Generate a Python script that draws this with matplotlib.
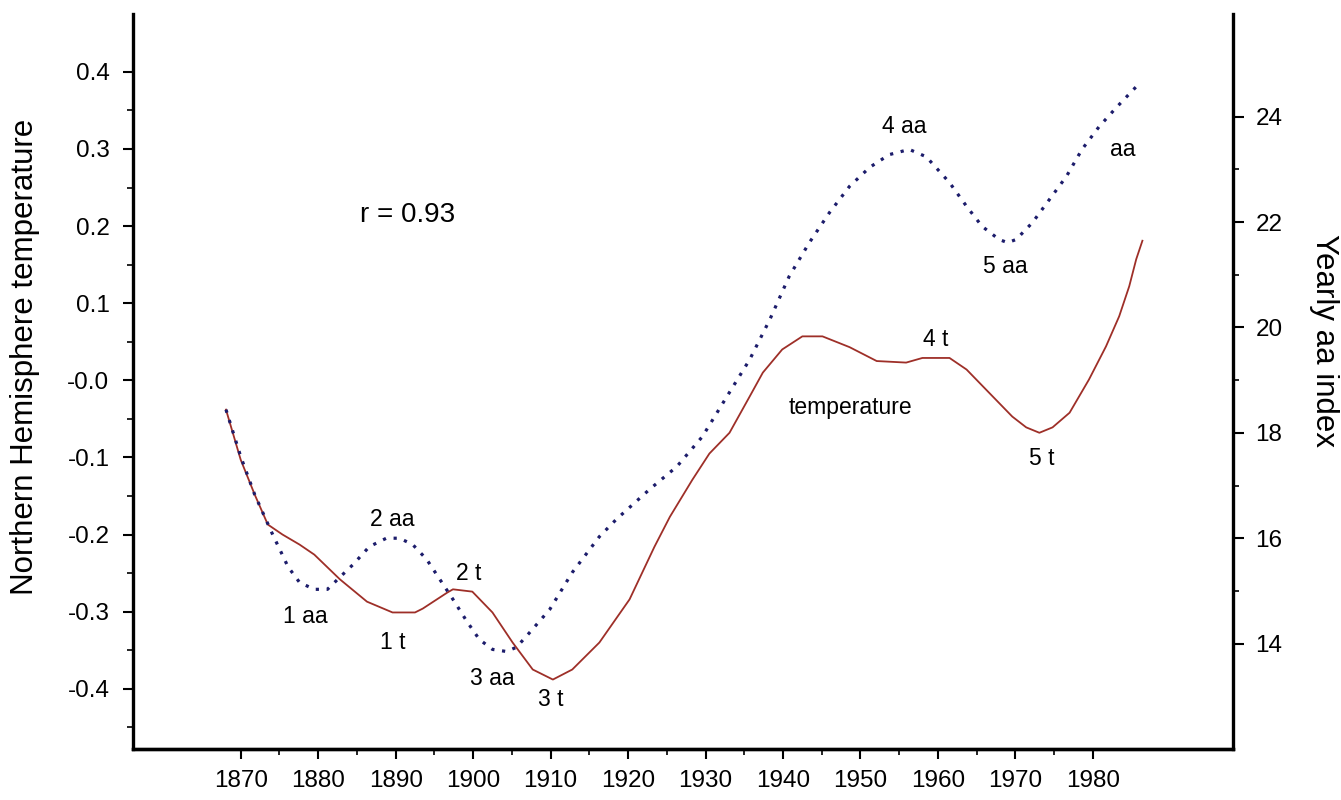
import matplotlib
matplotlib.use("Agg")
import matplotlib.pyplot as plt
from matplotlib.ticker import FixedLocator

plt.rcParams['font.family'] = ['Liberation Sans', 'DejaVu Sans']

# Northern Hemisphere temperature (left axis)
temp_years = [1868.1, 1870.0, 1871.8, 1873.5, 1875.4, 1877.6, 1879.5, 1882.8, 1886.3, 1889.6,
              1892.5, 1893.5, 1896.7, 1897.4, 1899.9, 1902.5, 1905.1, 1907.7, 1910.3, 1912.8,
              1916.3, 1920.2, 1923.4, 1925.4, 1928.3, 1930.5, 1933.1, 1935.7, 1937.4, 1939.9,
              1942.5, 1945.1, 1948.6, 1952.1, 1955.9, 1958.0, 1961.5, 1963.7, 1966.6, 1969.6,
              1971.4, 1973.1, 1974.8, 1977.0, 1979.5, 1981.7, 1983.4, 1984.7, 1985.6, 1986.4]
temp_vals = [-0.038, -0.103, -0.148, -0.187, -0.200, -0.213, -0.226, -0.258, -0.287, -0.301,
             -0.301, -0.296, -0.275, -0.271, -0.274, -0.301, -0.340, -0.375, -0.388, -0.375,
             -0.340, -0.284, -0.216, -0.177, -0.129, -0.095, -0.068, -0.021, 0.010, 0.040,
             0.057, 0.057, 0.043, 0.025, 0.023, 0.029, 0.029, 0.014, -0.016, -0.047,
             -0.061, -0.068, -0.061, -0.042, 0.001, 0.044, 0.083, 0.122, 0.157, 0.181]

# yearly aa index (right axis)
aa_years = [1868.1, 1870.0, 1871.8, 1874.0, 1876.1, 1877.6, 1879.5, 1881.2, 1882.8, 1884.5,
            1886.6, 1888.8, 1890.5, 1892.2, 1894.0, 1895.7, 1897.4, 1899.2, 1900.8, 1902.5,
            1904.3, 1905.6, 1907.3, 1909.9, 1912.8, 1916.3, 1918.5, 1922.8, 1926.3, 1929.6,
            1933.1, 1935.7, 1938.3, 1940.8, 1943.4, 1946.0, 1948.6, 1951.2, 1953.7, 1956.3,
            1958.5, 1961.5, 1963.7, 1965.7, 1967.9, 1969.0, 1970.1, 1972.2, 1974.4, 1976.6,
            1978.6, 1980.8, 1983.0, 1985.6]
aa_vals = [18.44, 17.55, 16.83, 16.11, 15.46, 15.16, 15.03, 15.03, 15.26, 15.50,
           15.84, 16.00, 16.00, 15.88, 15.60, 15.22, 14.84, 14.42, 14.08, 13.89,
           13.85, 13.93, 14.21, 14.65, 15.35, 16.03, 16.36, 16.93, 17.36, 17.93,
           18.77, 19.39, 20.15, 20.97, 21.61, 22.18, 22.68, 23.04, 23.28, 23.38,
           23.24, 22.75, 22.30, 21.92, 21.67, 21.61, 21.67, 21.99, 22.43, 22.87,
           23.38, 23.81, 24.17, 24.57]

left_ticks = [0.4, 0.3, 0.2, 0.1, 0.0, -0.1, -0.2, -0.3, -0.4]
left_labels = ["0.4", "0.3", "0.2", "0.1", "-0.0", "-0.1", "-0.2", "-0.3", "-0.4"]
right_ticks = [14, 16, 18, 20, 22, 24]
year_ticks = list(range(1870, 1990, 10))

# text labels: (x year, y temperature, text, size)
notes = [
    (1891.6, 0.214, "r = 0.93", 20),
    (1878.3, -0.306, "1 aa", 16.5),
    (1889.6, -0.180, "2 aa", 16.5),
    (1889.6, -0.340, "1 t", 16.5),
    (1899.4, -0.250, "2 t", 16.5),
    (1902.5, -0.386, "3 aa", 16.5),
    (1910.0, -0.414, "3 t", 16.5),
    (1955.6, 0.329, "4 aa", 16.5),
    (1959.7, 0.053, "4 t", 16.5),
    (1948.7, -0.035, "temperature", 16.5),
    (1968.7, 0.148, "5 aa", 16.5),
    (1973.4, -0.102, "5 t", 16.5),
    (1983.8, 0.299, "aa", 16.5),
]

fig = plt.figure(figsize=(13.41, 8), dpi=100)
ax = fig.add_axes([0.0992, 0.0638, 0.8203, 0.9187])
ax2 = ax.twinx()

ax.plot(temp_years, temp_vals, color="#9e2f28", lw=1.3, zorder=3)
ax2.plot(aa_years, aa_vals, color="#1c1c6b", lw=2.3, linestyle=(0, (1, 2.4)))

ax.set_xlim(1856.1, 1998.1)
ax.set_ylim(-0.478, 0.475)
ax2.set_ylim(12.0, 25.95)

ax.set_xticks(year_ticks)
ax.xaxis.set_minor_locator(FixedLocator([y + 5 for y in year_ticks[:-1]]))
ax.set_yticks(left_ticks)
ax.set_yticklabels(left_labels)
ax.yaxis.set_minor_locator(FixedLocator([v / 100 for v in range(-45, 40, 10)]))
ax2.set_yticks(right_ticks)
ax2.yaxis.set_minor_locator(FixedLocator([15, 17, 19, 21, 23]))

for a in (ax, ax2):
    a.spines["top"].set_visible(False)
    for s in a.spines.values():
        s.set_linewidth(2.4)
ax2.spines["left"].set_visible(False)
ax.spines["right"].set_visible(False)

ax.tick_params(axis="x", which="major", length=7, width=1.5, pad=8, labelsize=17.5)
ax.tick_params(axis="x", which="minor", length=4, width=1.2)
ax.tick_params(axis="y", which="major", length=7, width=1.5, pad=10, labelsize=17.5)
ax.tick_params(axis="y", which="minor", length=4, width=1.2)
ax2.tick_params(axis="y", which="major", length=8, width=1.5, pad=8, labelsize=17.5)
ax2.tick_params(axis="y", which="minor", length=4, width=1.2)

ax.set_ylabel("Northern Hemisphere temperature", fontsize=22.5, va="center")
ax.yaxis.set_label_coords(-0.098, 0.533)
ax2.set_ylabel("Yearly aa index", fontsize=22.5, rotation=270, va="center")
ax2.yaxis.set_label_coords(1.083, 0.556)

for x, y, s, size in notes:
    ax.text(x, y, s, fontsize=size, ha="center", va="center")

fig.savefig("out.png", dpi=100)
